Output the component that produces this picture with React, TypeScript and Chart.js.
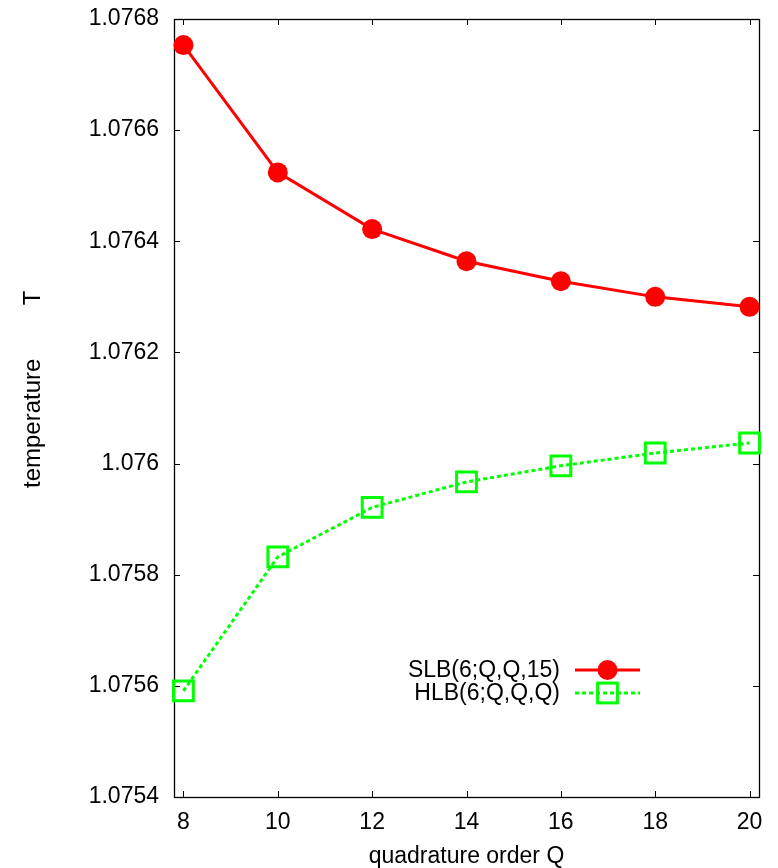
import React, { useEffect, useRef } from "react";
import { Chart, registerables } from "chart.js";

Chart.register(...registerables);

const quadratureOrders = [8, 10, 12, 14, 16, 18, 20];
const slbValues = [1.076753, 1.076524, 1.076422, 1.076364, 1.076328, 1.0763, 1.076282];
const hlbValues = [1.075591, 1.075832, 1.075921, 1.075967, 1.075996, 1.076019, 1.076037];
const seriesLabels = ["SLB(6;Q,Q,15)", "HLB(6;Q,Q,Q)"];
const xTickValues = [8, 10, 12, 14, 16, 18, 20];
const yTickValues = [1.0754, 1.0756, 1.0758, 1.076, 1.0762, 1.0764, 1.0766, 1.0768];
const yTickLabels = ["1.0754", "1.0756", "1.0758", "1.076", "1.0762", "1.0764", "1.0766", "1.0768"];
const xTitle = "quadrature order Q";
const yTitle = "temperature        T";

const FONT = "'Liberation Sans', Arial, sans-serif";

const framePlugin = {
  id: "gnuFrame",
  beforeDatasetsDraw(chart: any) {
    const { ctx, chartArea } = chart;
    const { left, right, top, bottom } = chartArea;
    const xs = chart.scales.x;
    const ys = chart.scales.y;
    ctx.save();
    ctx.strokeStyle = "#000";
    ctx.lineWidth = 1;
    ctx.beginPath();
    const tl = 6;
    xTickValues.forEach((v) => {
      const px = Math.round(xs.getPixelForValue(v)) + 0.5;
      ctx.moveTo(px, bottom);
      ctx.lineTo(px, bottom - tl);
      ctx.moveTo(px, top);
      ctx.lineTo(px, top + tl);
    });
    yTickValues.forEach((v) => {
      const py = Math.round(ys.getPixelForValue(v)) + 0.5;
      ctx.moveTo(left, py);
      ctx.lineTo(left + tl, py);
      ctx.moveTo(right, py);
      ctx.lineTo(right - tl, py);
    });
    ctx.stroke();
    ctx.lineWidth = 1.3;
    ctx.strokeRect(left + 0.5, top + 0.5, right - left, bottom - top);

    // y axis title, rotated
    ctx.translate(33, bottom - 309);
    ctx.rotate(-Math.PI / 2);
    ctx.font = `24px ${FONT}`;
    ctx.fillStyle = "#000";
    ctx.textAlign = "left";
    ctx.textBaseline = "middle";
    ctx.fillText(yTitle, 0, 0);
    ctx.restore();
  },
};

const legendPlugin = {
  id: "gnuLegend",
  afterDatasetsDraw(chart: any) {
    const { ctx, chartArea } = chart;
    const textRight = chartArea.right - 199;
    const lineStart = chartArea.right - 184;
    const lineEnd = chartArea.right - 119;
    const firstRow = chartArea.top + 651;
    const rowGap = 23;
    ctx.save();
    ctx.font = `23px ${FONT}`;
    ctx.textAlign = "right";
    ctx.textBaseline = "middle";
    chart.data.datasets.forEach((ds: any, i: number) => {
      const y = firstRow + i * rowGap;
      ctx.fillStyle = "#000";
      ctx.fillText(ds.label, textRight, y + 1);
      ctx.strokeStyle = ds.borderColor;
      ctx.lineWidth = ds.borderWidth;
      ctx.setLineDash(ds.borderDash || []);
      ctx.beginPath();
      ctx.moveTo(lineStart, y);
      ctx.lineTo(lineEnd, y);
      ctx.stroke();
      ctx.setLineDash([]);
      const cx = (lineStart + lineEnd) / 2;
      const r = ds.pointRadius;
      if (ds.pointStyle === "circle") {
        ctx.fillStyle = ds.pointBackgroundColor;
        ctx.beginPath();
        ctx.arc(cx, y, r, 0, Math.PI * 2);
        ctx.fill();
      } else {
        const s = Math.SQRT1_2 * r;
        ctx.lineWidth = ds.pointBorderWidth;
        ctx.strokeStyle = ds.pointBorderColor;
        ctx.strokeRect(cx - s, y - s, 2 * s, 2 * s);
      }
    });
    ctx.restore();
  },
};

export default function App() {
  const canvasRef = useRef<HTMLCanvasElement | null>(null);

  useEffect(() => {
    const canvas = canvasRef.current;
    if (!canvas) return;
    const chart = new Chart(canvas, {
      type: "line",
      data: {
        datasets: [
          {
            label: seriesLabels[0],
            data: quadratureOrders.map((q, i) => ({ x: q, y: slbValues[i] })),
            borderColor: "#ff0000",
            backgroundColor: "#ff0000",
            borderWidth: 3,
            pointStyle: "circle",
            pointRadius: 10,
            pointHoverRadius: 10,
            pointBackgroundColor: "#ff0000",
            pointBorderColor: "#ff0000",
            pointBorderWidth: 0,
            tension: 0,
            clip: false,
          } as any,
          {
            label: seriesLabels[1],
            data: quadratureOrders.map((q, i) => ({ x: q, y: hlbValues[i] })),
            borderColor: "#00ff00",
            backgroundColor: "rgba(0,0,0,0)",
            borderWidth: 3,
            borderDash: [4, 3],
            pointStyle: "rect",
            pointRadius: 14,
            pointHoverRadius: 14,
            pointBackgroundColor: "rgba(0,0,0,0)",
            pointBorderColor: "#00ff00",
            pointBorderWidth: 3,
            tension: 0,
            clip: false,
          } as any,
        ],
      },
      options: {
        responsive: false,
        animation: false,
        events: [],
        layout: { padding: { top: 19, right: 19, left: 0, bottom: 0 } },
        plugins: {
          legend: { display: false },
          tooltip: { enabled: false },
          title: { display: false },
        },
        scales: {
          x: {
            type: "linear",
            min: 7.8,
            max: 20.2,
            afterBuildTicks: (scale: any) => {
              scale.ticks = xTickValues.map((v) => ({ value: v }));
            },
            afterFit: (scale: any) => {
              scale.height = 71;
              scale.paddingLeft = 0;
              scale.paddingRight = 0;
            },
            grid: { display: false, drawTicks: false },
            border: { display: false },
            ticks: {
              color: "#000",
              font: { family: FONT, size: 23 },
              padding: 12,
              maxRotation: 0,
              autoSkip: false,
              callback: (v: any) => String(v),
            },
            title: {
              display: true,
              text: xTitle,
              color: "#000",
              font: { family: FONT, size: 23, lineHeight: 1 },
              padding: { top: 0, bottom: 0 },
            },
          },
          y: {
            type: "linear",
            min: 1.0754,
            max: 1.0768,
            afterBuildTicks: (scale: any) => {
              scale.ticks = yTickValues.map((v) => ({ value: v }));
            },
            afterFit: (scale: any) => {
              scale.width = 174;
              scale.paddingTop = 0;
              scale.paddingBottom = 0;
            },
            grid: { display: false, drawTicks: false },
            border: { display: false },
            ticks: {
              color: "#000",
              font: { family: FONT, size: 23 },
              padding: 15,
              autoSkip: false,
              callback: (v: any, i: number) => yTickLabels[i],
            },
            title: { display: false },
          },
        },
      } as any,
      plugins: [framePlugin, legendPlugin],
    });
    return () => chart.destroy();
  }, []);

  return (
    <div style={{ position: "absolute", left: 0, top: 0, width: 778, height: 868, background: "#fff" }}>
      <canvas ref={canvasRef} width={778} height={868} style={{ display: "block" }} />
    </div>
  );
}
